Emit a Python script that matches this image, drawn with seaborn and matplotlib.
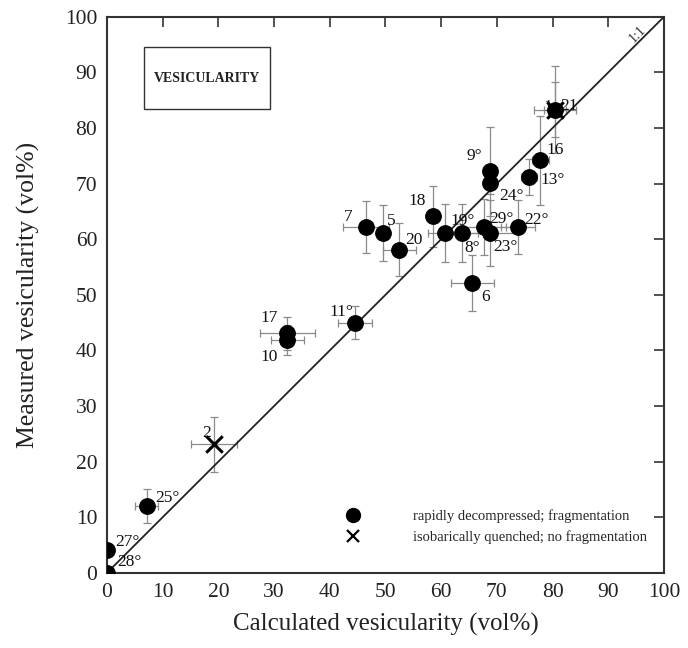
"""
Measured vs calculated vesicularity scatter with error bars
"""

import numpy as np
import pandas as pd
import matplotlib
matplotlib.use('Agg')
import matplotlib.pyplot as plt
from matplotlib.lines import Line2D
from matplotlib.patches import Rectangle
import seaborn as sns

# data
labels = ['1', '21', '16', '13°', '9°', '24°', '18', '7', '5', '20', '19°', '8°',
          '29°', '23°', '22°', '6', '11°', '17', '10', '2', '25°', '27°', '28°']
calc = [80.5, 80.5, 77.8, 75.8, 68.8, 68.8, 58.6, 46.5, 49.5, 52.5, 60.7, 63.7,
        67.7, 68.8, 73.8, 65.6, 44.5, 32.4, 32.4, 19.2, 7.1, 0.0, 0.0]
meas = [83.3, 83.3, 74.2, 71.2, 72.2, 70.1, 64.1, 62.2, 61.1, 58.1, 61.1, 61.1,
        62.2, 61.1, 62.2, 52.1, 45.0, 43.1, 41.9, 23.1, 12.0, 4.1, 0.0]
calc_err = [3.8, 2.0, 1.5, 1.5, 1.2, 1.2, 0.0, 4.2, 0.0, 3.0, 3.0, 3.0,
            4.0, 5.0, 3.0, 3.9, 3.0, 5.0, 3.0, 4.2, 2.0, 0.0, 0.0]
meas_err = [7.8, 5.0, 8.0, 3.2, 8.0, 2.0, 5.5, 4.7, 5.0, 4.8, 5.2, 5.2,
            5.0, 6.0, 4.8, 5.0, 3.0, 3.0, 2.7, 5.0, 3.0, 0.0, 0.0]
kind = ['iso'] + ['frag'] * 18 + ['iso'] + ['frag'] * 3

# label offsets in pixels (dx, dy, ha)
label_pos = {
    '1': (-3, 3, 'right'), '21': (5, 4, 'left'), '16': (15, 10, 'center'),
    '13°': (23, -3, 'center'), '9°': (-16, 15, 'center'), '24°': (21, -13, 'center'),
    '18': (-16, 15, 'center'), '7': (-18, 10, 'center'), '5': (9, 12, 'center'),
    '20': (15, 10, 'center'), '19°': (18, 12, 'center'), '8°': (10, -15, 'center'),
    '29°': (17, 8, 'center'), '23°': (15, -14, 'center'), '22°': (18, 7, 'center'),
    '6': (13, -14, 'center'), '11°': (-13, 11, 'center'), '17': (-18, 15, 'center'),
    '10': (-18, -17, 'center'), '2': (-7, 11, 'center'), '25°': (21, 8, 'center'),
    '27°': (20, 8, 'center'), '28°': (22, 11, 'center'),
}

df = pd.DataFrame({'label': labels, 'calc': calc, 'meas': meas,
                   'calc_err': calc_err, 'meas_err': meas_err, 'kind': kind})

sns.set_style('white')
plt.rcParams['font.family'] = ['Liberation Serif', 'DejaVu Serif']

fig = plt.figure(figsize=(6.88, 6.48), dpi=100)
ax = fig.add_axes([0.1555, 0.116, 0.8095, 0.858])

# error bars
for _, r in df.iterrows():
    if r['calc_err'] > 0 or r['meas_err'] > 0:
        ax.errorbar(r['calc'], r['meas'], xerr=r['calc_err'], yerr=r['meas_err'],
                    fmt='none', ecolor='#8a8a8a', elinewidth=0.9, capsize=3,
                    capthick=0.9, zorder=2)

# 1:1 line
ax.plot([0, 100], [0, 100], color='#222222', lw=1.3, zorder=3)
ax.text(95.3, 96.8, '1:1', rotation=45, fontsize=10, ha='center', va='center',
        color='#333333')

# points
sns.scatterplot(data=df[df['kind'] == 'frag'], x='calc', y='meas', marker='o',
                s=125, color='black', edgecolor='black', ax=ax, zorder=5,
                legend=False)
sns.scatterplot(data=df[df['kind'] == 'iso'], x='calc', y='meas', marker='x',
                s=140, color='black', linewidth=2.2, ax=ax, zorder=5,
                legend=False)

for _, r in df.iterrows():
    dx, dy, ha = label_pos[r['label']]
    ax.annotate(r['label'], (r['calc'], r['meas']), xytext=(dx, dy),
                textcoords='offset pixels', ha=ha, va='center', fontsize=12.5,
                color='#111111', zorder=4)

# title box
ax.add_patch(Rectangle((6.6, 83.4), 22.7, 11.1, fill=False, lw=1.0,
                       edgecolor='#333333', zorder=1))
ax.text(17.9, 89.0, 'VESICULARITY', fontsize=10, fontweight='bold',
        ha='center', va='center', color='#222222')

# legend
handles = [
    Line2D([], [], marker='o', ls='none', color='black', markersize=10),
    Line2D([], [], marker='x', ls='none', color='black', markersize=8,
           markeredgewidth=1.6),
]
ax.legend(handles, ['rapidly decompressed; fragmentation',
                    'isobarically quenched; no fragmentation'],
          loc='lower left', bbox_to_anchor=(0.392, 0.028), frameon=False,
          fontsize=10.5, handletextpad=3.1, labelspacing=0.5)

ax.set_xlim(0, 100)
ax.set_ylim(0, 100)
ax.set_xticks(np.arange(0, 101, 10))
ax.set_yticks(np.arange(0, 101, 10))
ax.tick_params(direction='in', length=7, width=1.2, top=True, right=True,
               labelsize=15.5, pad=7, color='#333333', labelcolor='#222222')
for s in ax.spines.values():
    s.set_linewidth(1.5)
    s.set_color('#333333')

ax.set_xlabel('Calculated vesicularity (vol%)', fontsize=18, labelpad=8,
              color='#222222')
ax.set_ylabel('Measured vesicularity (vol%)', fontsize=18.5, labelpad=18,
              color='#222222')

fig.savefig('out.png', dpi=100)
